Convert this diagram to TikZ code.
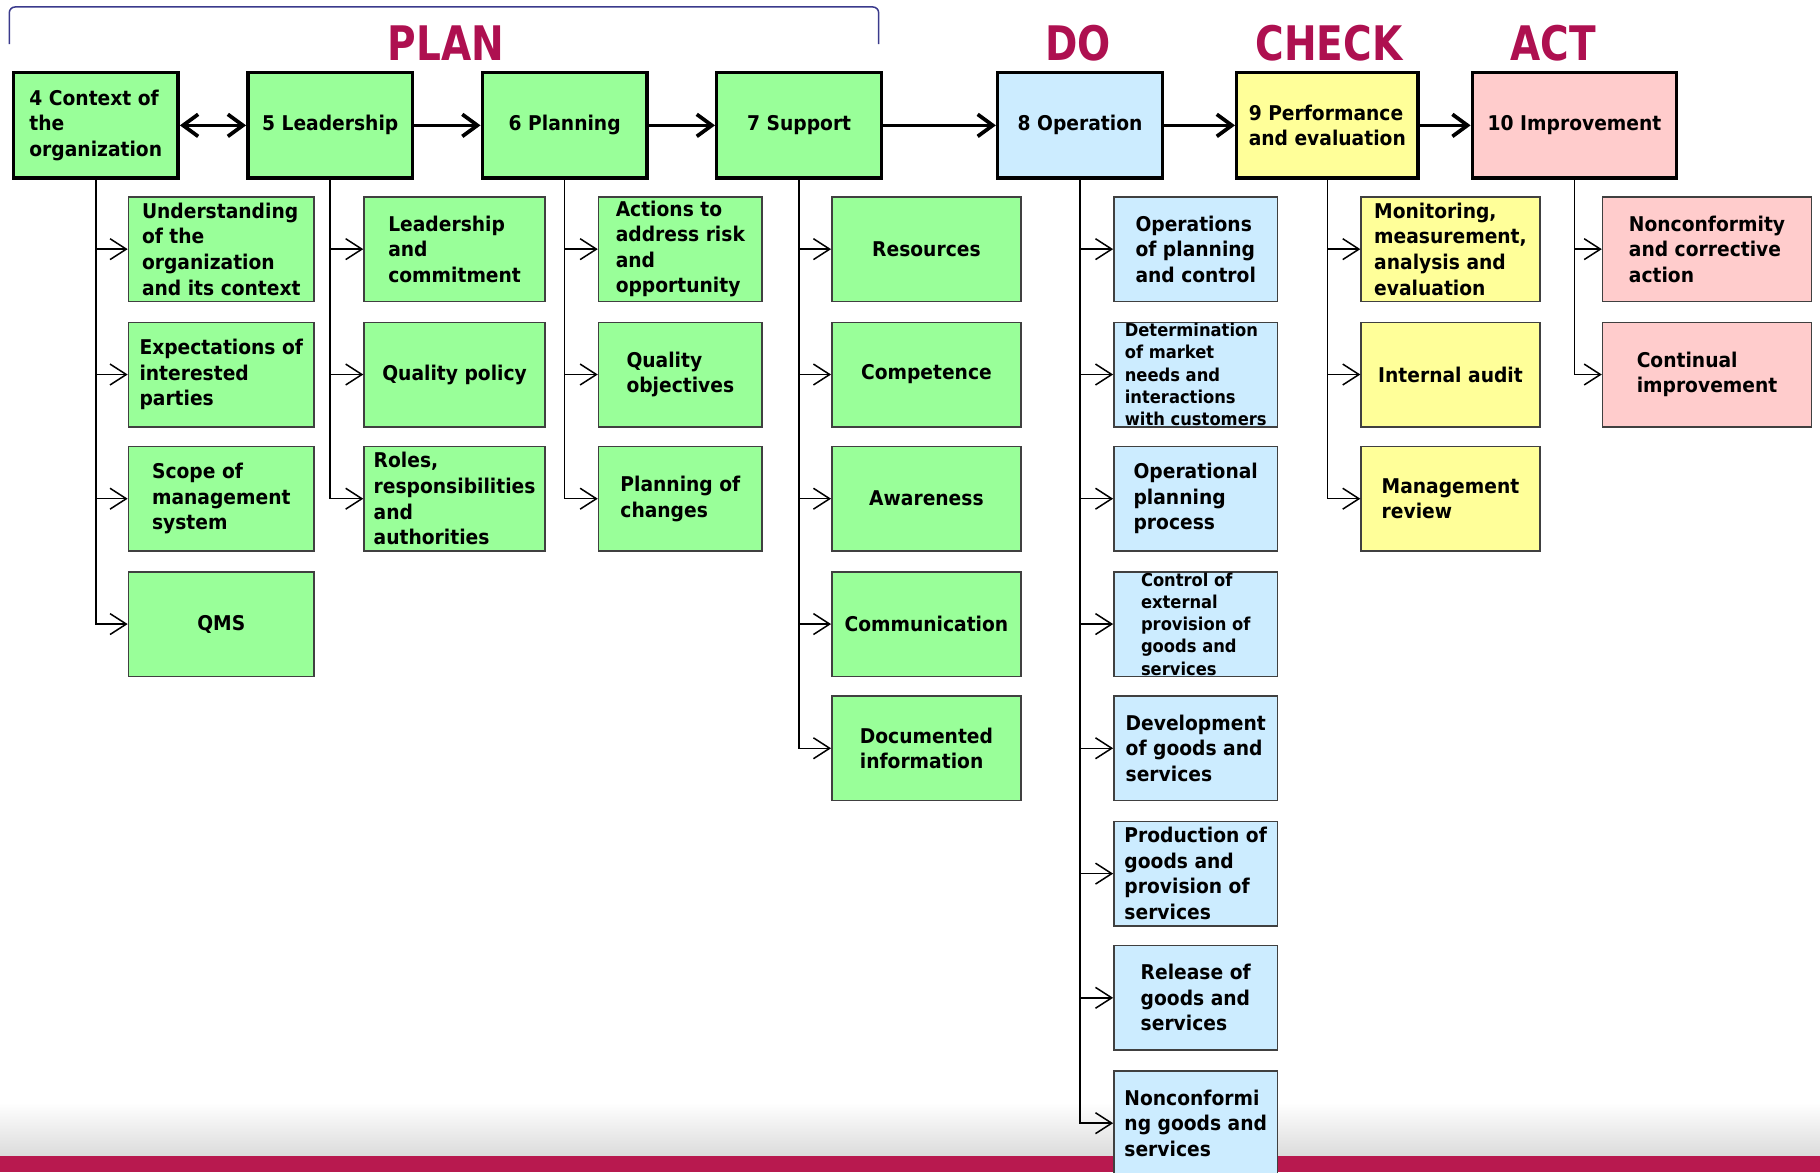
\documentclass[tikz,border=0pt]{standalone}
\usepackage{fontspec}
\setmainfont{DejaVu Sans}[FakeStretch=0.92]
\newfontfamily\ttlfont{DejaVu Sans}[FakeStretch=0.82]
\usetikzlibrary{arrows.meta}
\definecolor{grn}{HTML}{99FF99}
\definecolor{blu}{HTML}{CCECFF}
\definecolor{yel}{HTML}{FFFF99}
\definecolor{pnk}{HTML}{FFCCCC}
\definecolor{ttl}{HTML}{AE1050}
\definecolor{band}{HTML}{B8194F}
\definecolor{navy}{HTML}{3A3A8C}
\newcommand\bxfont{\fontsize{17.5}{22}\selectfont\bfseries}
\newcommand\smfont{\fontsize{15.3}{19.2}\selectfont\bfseries}
\begin{document}
\begin{tikzpicture}[x=1pt,y=-1pt,
  topbox/.style={draw=black, line width=3pt, minimum height=91pt, inner sep=0pt,
     anchor=north west, align=left, font=\bxfont},
  subbox/.style={draw=black!75, line width=1.3pt, minimum height=90pt, inner sep=0pt,
     anchor=north west, align=left, font=\bxfont},
  ttext/.style={text=ttl, font=\ttlfont\fontsize{41}{42}\selectfont\bfseries},
  marrow/.style={line width=3.2pt, -{Straight Barb[length=13pt,width=19pt]}},
  sarrow/.style={line width=1.3pt, -{Straight Barb[length=14pt,width=18pt]}}]
\useasboundingbox (0,0) rectangle (1568,1010);
% bottom band
\shade[top color=white, bottom color=black!14] (0,950) rectangle (1568,996);
\fill[band] (0,996) rectangle (1568,1010);
% bracket
\draw[navy, line width=1.3pt, rounded corners=5pt] (8,38) -- (8,6) -- (757,6) -- (757,38);
% titles
\node[ttext] (plan) at (384,37) {PLAN};
\node[ttext] (do) at (929,37) {DO};
\node[ttext] (check) at (1145,37) {CHECK};
\node[ttext] (act) at (1338,37) {ACT};
% top row
\node[topbox, fill=grn, minimum width=142pt] (c4) at (10,61) {4 Context of\\the\\organization};
\node[topbox, fill=grn, minimum width=142pt] (c5) at (212,61) {5 Leadership};
\node[topbox, fill=grn, minimum width=142pt] (c6) at (414,61) {6 Planning};
\node[topbox, fill=grn, minimum width=142pt] (c7) at (616,61) {7 Support};
\node[topbox, fill=blu, minimum width=142pt] (c8) at (858,61) {8 Operation};
\node[topbox, fill=yel, minimum width=156pt] (c9) at (1064,61) {9 Performance\\and evaluation};
\node[topbox, fill=pnk, minimum width=176pt] (c10) at (1267,61) {10 Improvement};
% column 4
\node[subbox, fill=grn, minimum width=160pt] (a1) at (110,169) {Understanding\\of the\\organization\\and its context};
\node[subbox, fill=grn, minimum width=160pt] (a2) at (110,277) {Expectations of\\interested\\parties};
\node[subbox, fill=grn, minimum width=160pt] (a3) at (110,384) {Scope of\\management\\system};
\node[subbox, fill=grn, minimum width=160pt] (a4) at (110,492) {QMS};
% column 5
\node[subbox, fill=grn, minimum width=156pt] (b1) at (313,169) {Leadership\\and\\commitment};
\node[subbox, fill=grn, minimum width=156pt] (b2) at (313,277) {Quality policy};
\node[subbox, fill=grn, minimum width=156pt] (b3) at (313,384) {Roles,\\responsibilities\\and\\authorities};
% column 6
\node[subbox, fill=grn, minimum width=141pt] (d1) at (515,169) {Actions to\\address risk\\and\\opportunity};
\node[subbox, fill=grn, minimum width=141pt] (d2) at (515,277) {Quality\\objectives};
\node[subbox, fill=grn, minimum width=141pt] (d3) at (515,384) {Planning of\\changes};
% column 7
\node[subbox, fill=grn, minimum width=163pt] (e1) at (716,169) {Resources};
\node[subbox, fill=grn, minimum width=163pt] (e2) at (716,277) {Competence};
\node[subbox, fill=grn, minimum width=163pt] (e3) at (716,384) {Awareness};
\node[subbox, fill=grn, minimum width=163pt] (e4) at (716,492) {Communication};
\node[subbox, fill=grn, minimum width=163pt] (e5) at (716,599) {Documented\\information};
% column 8
\node[subbox, fill=blu, minimum width=141pt] (f1) at (959,169) {Operations\\of planning\\and control};
\node[subbox, fill=blu, minimum width=141pt] (f2) at (959,277) {};
\node[align=left, font=\smfont, inner sep=0pt] (f2t) at (f2.center) {Determination\\of market\\needs and\\interactions\\with customers};
\node[subbox, fill=blu, minimum width=141pt] (f3) at (959,384) {Operational\\planning\\process};
\node[subbox, fill=blu, minimum width=141pt] (f4) at (959,492) {};
\node[align=left, font=\smfont, inner sep=0pt] (f4t) at (f4.center) {Control of\\external\\provision of\\goods and\\services};
\node[subbox, fill=blu, minimum width=141pt] (f5) at (959,599) {Development\\of goods and\\services};
\node[subbox, fill=blu, minimum width=141pt] (f6) at (959,707) {Production of\\goods and\\provision of\\services};
\node[subbox, fill=blu, minimum width=141pt] (f7) at (959,814) {Release of\\goods and\\services};
\node[subbox, fill=blu, minimum width=141pt] (f8) at (959,922) {Nonconformi\\ng goods and\\services};
% column 9
\node[subbox, fill=yel, minimum width=154pt] (g1) at (1172,169) {Monitoring,\\measurement,\\analysis and\\evaluation};
\node[subbox, fill=yel, minimum width=154pt] (g2) at (1172,277) {Internal audit};
\node[subbox, fill=yel, minimum width=154pt] (g3) at (1172,384) {Management\\review};
% column 10
\node[subbox, fill=pnk, minimum width=180pt] (h1) at (1380,169) {Nonconformity\\and corrective\\action};
\node[subbox, fill=pnk, minimum width=180pt] (h2) at (1380,277) {Continual\\improvement};
% main arrows
\draw[marrow, {Straight Barb[length=13pt,width=19pt]}-{Straight Barb[length=13pt,width=19pt]}] (c4.east) -- (c5.west);
\draw[marrow] (c5.east) -- (c6.west);
\draw[marrow] (c6.east) -- (c7.west);
\draw[marrow] (c7.east) -- (c8.west);
\draw[marrow] (c8.east) -- (c9.west);
\draw[marrow] (c9.east) -- (c10.west);
% branch arrows
\foreach \ch in {a1,a2,a3,a4} \draw[sarrow] (c4.south) |- (\ch.west);
\foreach \ch in {b1,b2,b3} \draw[sarrow] (c5.south) |- (\ch.west);
\foreach \ch in {d1,d2,d3} \draw[sarrow] (c6.south) |- (\ch.west);
\foreach \ch in {e1,e2,e3,e4,e5} \draw[sarrow] (c7.south) |- (\ch.west);
\foreach \ch in {f1,f2,f3,f4,f5,f6,f7,f8} \draw[sarrow] (c8.south) |- (\ch.west);
\foreach \ch in {g1,g2,g3} \draw[sarrow] (c9.south) |- (\ch.west);
\foreach \ch in {h1,h2} \draw[sarrow] (c10.south) |- (\ch.west);
\end{tikzpicture}
\end{document}
